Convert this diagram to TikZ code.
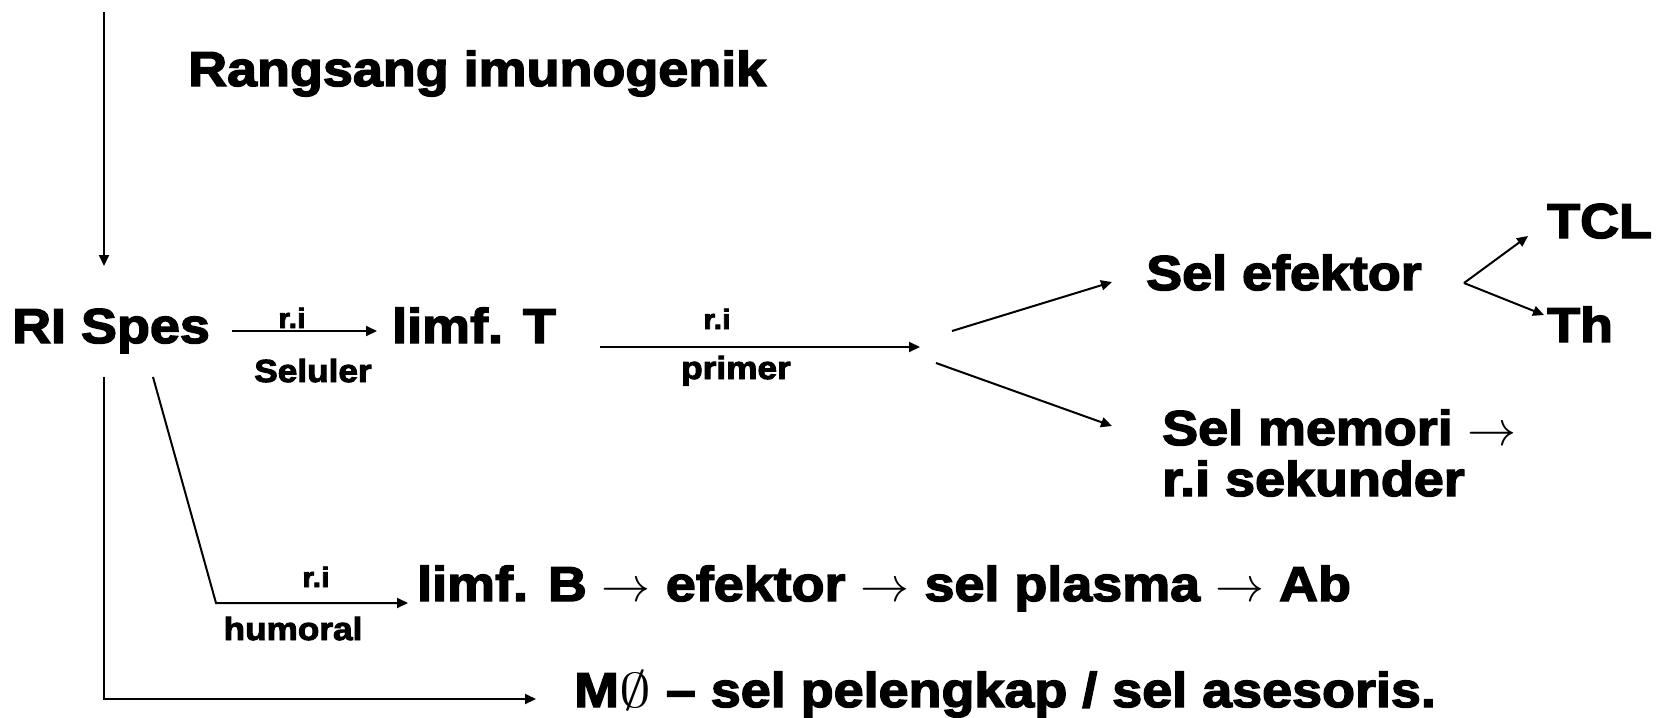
\documentclass[tikz,border=0pt]{standalone}
\usepackage{fix-cm}
\usepackage{fontspec}
\setmainfont{Liberation Sans}[FakeStretch=1.1, BoldFeatures={FakeBold=3}]
\usetikzlibrary{arrows.meta}
\begin{document}
\begin{tikzpicture}[x=1pt,y=-1pt,
  main/.style={font=\bfseries\fontsize{49}{55}\selectfont, inner sep=0pt, anchor=base west},
  lab/.style={font=\bfseries\fontsize{32}{36}\selectfont, inner sep=0pt, anchor=base},
  rilab/.style={font=\bfseries\fontsize{28}{32}\selectfont, inner sep=0pt, anchor=base},
  conn/.style={line width=2pt, -{Triangle[length=11pt,width=10pt]}},
  plainline/.style={line width=2pt}]
\useasboundingbox (0,0) rectangle (1661,717);
% texts
\node[main] (rang) at (188,86) {Rangsang imunogenik};
\node[main] (rispes) at (12,343) {RI Spes};
\node[main] (limft) at (392,343) {limf. T};
\node[main] (selef) at (1146,290) {Sel efektor};
\node[main] (tcl) at (1547,238) {TCL};
\node[main] (th) at (1547,342) {Th};
\node[main] (selmem) at (1162,445) {Sel memori $\rightarrow$};
\node[main] (sek) at (1162,496) {r.i sekunder};
\node[main] (limfb) at (417,601) {limf. B $\rightarrow$ efektor $\rightarrow$ sel plasma $\rightarrow$ Ab};
\node[main] (mo) at (574,707) {M\scalebox{1.3}[1]{$\emptyset$} -- sel pelengkap / sel asesoris.};
% small labels
\node[rilab] (ri1) at (292,328) {r.i};
\node[lab] (selul) at (313,382) {Seluler};
\node[rilab] (ri2) at (717,329) {r.i};
\node[lab] (prim) at (736,379) {primer};
\node[rilab] (ri3) at (316,587) {r.i};
\node[lab] (humo) at (293,640) {humoral};
% coordinates
\coordinate (topS) at (104,12);
\coordinate (topE) at (104,266);
\coordinate (vS) at (104,377);
\coordinate (vC) at (104,699);
\coordinate (vE) at (536,699);
\coordinate (hS) at (153,377);
\coordinate (hC) at (216,603);
\coordinate (hE) at (408,603);
\coordinate (sS) at (232,331);
\coordinate (sE) at (377,331);
\coordinate (pS) at (600,347);
\coordinate (pE) at (920,347);
\coordinate (uS) at (952,331);
\coordinate (uE) at (1112,282);
\coordinate (lS) at (936,363);
\coordinate (lE) at (1112,426);
\coordinate (bJ) at (1464,283);
\coordinate (bT) at (1528,236);
\coordinate (bH) at (1544,315);
% connectors
\draw[conn] (topS) -- (topE);
\draw[conn] (vS) -- (vC) -- (vE);
\draw[conn] (hS) -- (hC) -- (hE);
\draw[conn] (sS) -- (sE);
\draw[conn] (pS) -- (pE);
\draw[conn] (uS) -- (uE);
\draw[conn] (lS) -- (lE);
\draw[conn] (bJ) -- (bT);
\draw[conn] (bJ) -- (bH);
\end{tikzpicture}
\end{document}
